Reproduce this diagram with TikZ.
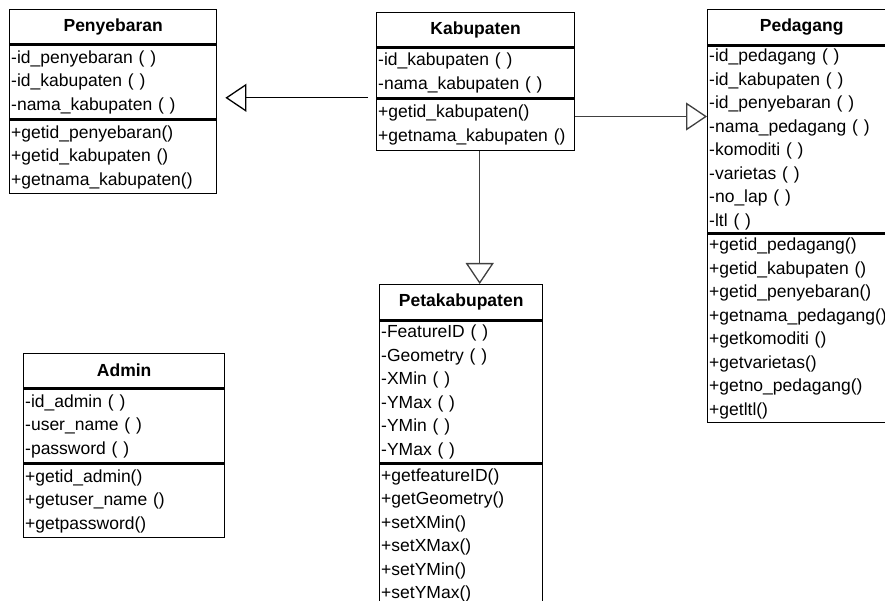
\documentclass[tikz,border=0pt]{standalone}
\usepackage{fontspec}
\setmainfont{Liberation Sans}
\usetikzlibrary{arrows.meta}
\begin{document}
\begin{tikzpicture}[x=1pt,y=-1pt]
\tikzset{
  box/.style={draw, line width=1.4pt, inner xsep=1.5pt, inner ysep=0pt,
    anchor=north west, font=\fontsize{17.5}{23.5}\selectfont},
  head/.style={box, font=\fontsize{17.5}{23.5}\selectfont\bfseries, align=center},
  part/.style={box, align=left},
  gen/.style={draw=black!75, line width=1.3pt,
    -{Triangle[open, length=21pt, width=28pt, line width=1.3pt]}},
}
\path[use as bounding box, clip] (0,0) rectangle (885,601);

% Penyebaran
\node[head, minimum width=207pt, minimum height=34pt] (pen) at (9,9) {Penyebaran};
\node[part, text width=204pt, minimum height=74pt] (pen-a) at (pen.south west)
  {-id\_penyebaran ( )\\-id\_kabupaten ( )\\-nama\_kabupaten ( )};
\node[part, text width=204pt, minimum height=73pt] (pen-m) at (pen-a.south west)
  {+getid\_penyebaran()\\+getid\_kabupaten ()\\+getnama\_kabupaten()};

% Kabupaten
\node[head, minimum width=198pt, minimum height=34pt] (kab) at (376,12) {Kabupaten};
\node[part, text width=195pt, minimum height=50pt] (kab-a) at (kab.south west)
  {-id\_kabupaten ( )\\-nama\_kabupaten ( )};
\node[part, text width=195pt, minimum height=51pt] (kab-m) at (kab-a.south west)
  {+getid\_kabupaten()\\+getnama\_kabupaten ()};

% Pedagang
\node[head, minimum width=188pt, minimum height=35pt] (ped) at (707,9) {Pedagang};
\node[part, text width=185pt, minimum height=187pt] (ped-a) at (ped.south west)
  {-id\_pedagang ( )\\-id\_kabupaten ( )\\-id\_penyebaran ( )\\-nama\_pedagang ( )\\
   -komoditi ( )\\-varietas ( )\\-no\_lap ( )\\-ltl ( )};
\node[part, text width=185pt, minimum height=188pt] (ped-m) at (ped-a.south west)
  {+getid\_pedagang()\\+getid\_kabupaten ()\\+getid\_penyebaran()\\+getnama\_pedagang()\\
   +getkomoditi ()\\+getvarietas()\\+getno\_pedagang()\\+getltl()};

% Petakabupaten
\node[head, minimum width=163pt, minimum height=35pt] (peta) at (379,284) {Petakabupaten};
\node[part, text width=160pt, minimum height=142pt] (peta-a) at (peta.south west)
  {-FeatureID ( )\\-Geometry ( )\\-XMin ( )\\-YMax ( )\\-YMin ( )\\-YMax ( )};
\node[part, text width=160pt, minimum height=142pt] (peta-m) at (peta-a.south west)
  {+getfeatureID()\\+getGeometry()\\+setXMin()\\+setXMax()\\+setYMin()\\+setYMax()};

% Admin
\node[head, minimum width=201pt, minimum height=34pt] (adm) at (23,353) {Admin};
\node[part, text width=198pt, minimum height=74pt] (adm-a) at (adm.south west)
  {-id\_admin ( )\\-user\_name ( )\\-password ( )};
\node[part, text width=198pt, minimum height=73pt] (adm-m) at (adm-a.south west)
  {+getid\_admin()\\+getuser\_name ()\\+getpassword()};

% generalisation connectors
\coordinate (kl) at ([xshift=-8pt,yshift=1pt]kab-a.south west);
\coordinate (pr) at ([xshift=8pt]pen-a.east |- kl);
\draw[gen, draw=black] (kl) -- (pr);
\draw[gen] ([yshift=8.5pt]kab-m.east) -- ([yshift=8.5pt]kab-m.east -| ped-a.west);
\draw[gen] ([xshift=4pt]kab-m.south) -- ([xshift=4pt]kab-m.south |- peta.north);
\end{tikzpicture}
\end{document}
